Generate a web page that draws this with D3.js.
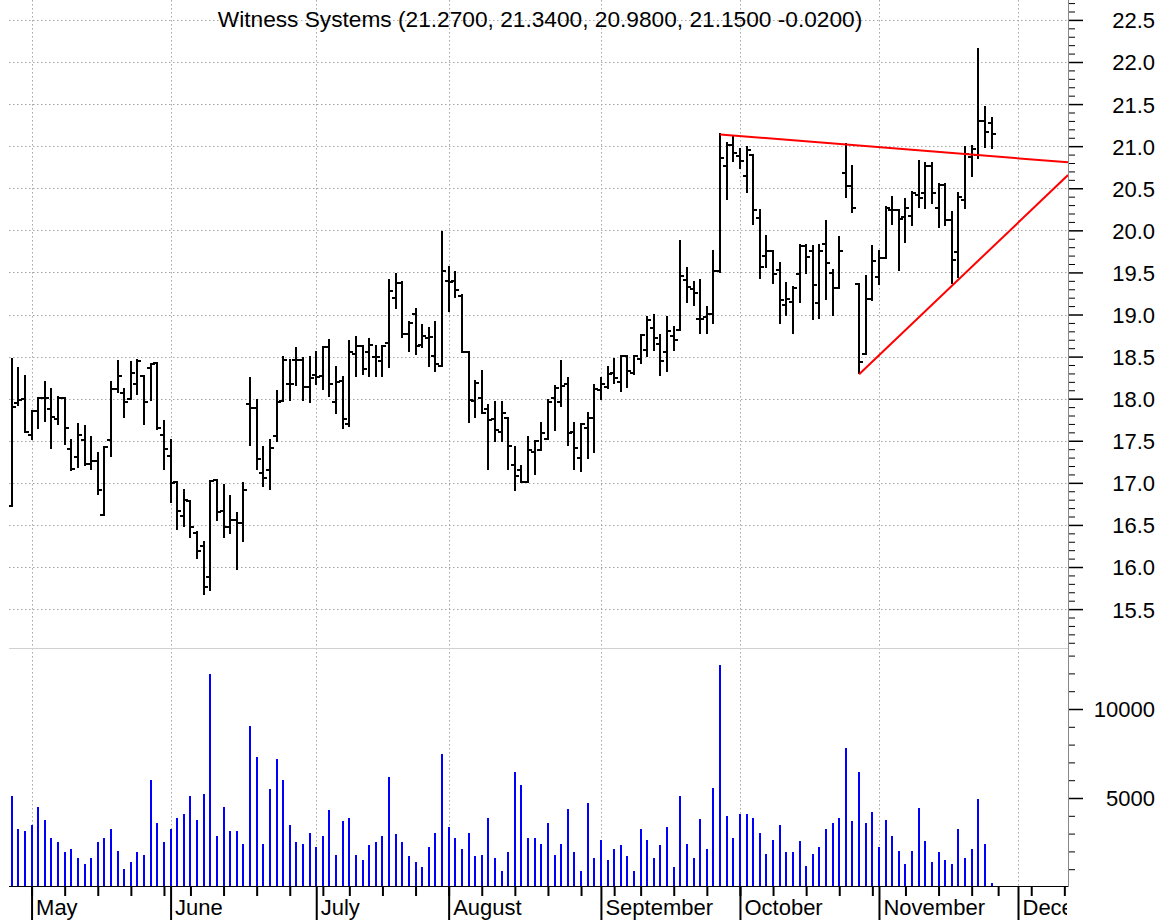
<!DOCTYPE html>
<html><head><meta charset="utf-8">
<script src="https://cdn.jsdelivr.net/npm/d3@7"></script>
<style>body{margin:0;background:#fff} svg{display:block}</style>
</head><body>
<svg id="chart" width="1165" height="920"></svg>
<script>
const title = "Witness Systems (21.2700, 21.3400, 20.9800, 21.1500 -0.0200)";
const firstDay = "2005-04-27";
const holidays = ["2005-05-30","2005-07-04","2005-09-05","2005-11-24"];
const monthNames = ["January","February","March","April","May","June","July","August","September","October","November","December"];

const opens = [16.73,17.95,18.00,17.57,17.85,18.01,17.88,17.76,18.01,17.40,
17.31,17.51,17.22,17.26,16.62,17.51,18.12,18.07,18.00,18.17,
18.27,18.36,18.42,17.57,17.32,17.01,16.61,16.78,16.41,16.25,
15.88,17.03,16.67,16.47,16.56,16.52,17.94,17.89,17.12,17.15,
17.56,17.97,18.18,18.46,18.46,18.14,18.28,18.27,18.61,17.96,
18.21,17.70,18.53,18.62,18.56,18.50,18.45,18.66,19.20,19.37,
18.77,19.01,18.64,18.72,18.51,18.39,19.40,19.40,19.22,18.55,
17.97,18.01,17.88,17.76,17.61,17.77,17.21,17.15,17.01,17.37,
17.39,17.52,18.01,17.96,18.18,17.61,17.30,17.65,17.77,18.10,
18.14,18.31,18.20,18.51,18.31,18.47,18.58,18.84,18.65,18.55,
18.74,18.82,19.41,19.30,18.95,18.97,19.01,19.52,20.76,21.01,
20.88,20.64,20.90,20.15,19.69,19.76,19.53,19.11,19.15,19.48,
19.81,19.76,19.14,19.84,19.49,19.31,20.68,20.53,19.36,18.53,
19.18,19.45,19.67,20.24,20.24,20.16,20.17,20.42,20.44,20.76,
20.26,20.54,20.12,19.74,20.36,20.87,20.89,21.30,21.27];
const highs = [18.47,18.36,18.27,17.85,18.01,18.20,18.11,18.02,18.01,17.51,
17.70,17.67,17.55,17.35,17.42,18.20,18.45,18.11,18.43,18.46,
18.27,18.41,18.42,17.73,17.51,17.01,16.91,16.78,16.42,16.30,
17.02,17.03,16.97,16.84,16.64,17.00,18.25,17.99,17.42,17.51,
18.09,18.49,18.46,18.60,18.48,18.49,18.55,18.61,18.70,18.38,
18.26,18.68,18.73,18.62,18.71,18.62,18.62,19.41,19.48,19.39,
18.91,19.06,18.88,18.84,18.91,19.98,19.56,19.50,19.23,18.55,
18.21,18.33,17.92,17.96,17.96,17.77,17.42,17.20,17.55,17.50,
17.71,17.98,18.15,18.45,18.25,17.71,17.70,17.83,18.16,18.24,
18.38,18.47,18.51,18.51,18.51,18.76,18.97,18.99,18.76,18.97,
18.85,19.87,19.55,19.39,19.41,19.09,19.76,21.14,21.04,21.12,
20.97,20.99,20.90,20.24,19.93,19.76,19.61,19.37,19.33,19.82,
19.83,19.81,19.83,20.11,19.53,19.92,21.03,20.77,19.36,19.46,
19.81,19.76,20.28,20.40,20.24,20.37,20.46,20.82,20.80,20.80,
20.55,20.55,20.22,20.44,20.99,21.00,22.15,21.47,21.34];
const lows = [16.73,17.93,17.61,17.52,17.65,17.73,17.41,17.70,17.46,17.15,
17.19,17.21,17.17,16.87,16.62,17.32,18.08,17.78,18.00,18.06,
17.70,17.98,17.64,17.17,16.77,16.45,16.49,16.36,16.11,15.68,
15.73,16.56,16.36,16.41,15.98,16.31,17.45,17.17,16.96,16.93,
17.50,17.97,17.99,18.16,17.99,17.96,18.18,18.11,18.03,17.83,
17.65,17.67,18.27,18.29,18.27,18.27,18.27,18.38,19.08,18.73,
18.57,18.53,18.61,18.39,18.33,18.39,19.04,19.21,18.55,17.72,
17.78,17.83,17.17,17.50,17.50,17.16,16.91,17.01,17.01,17.10,
17.39,17.52,17.63,17.91,17.45,17.16,17.14,17.30,17.37,18.00,
18.13,18.19,18.09,18.14,18.29,18.42,18.51,18.58,18.28,18.33,
18.58,18.82,19.15,19.11,18.78,18.78,18.90,19.50,20.37,20.82,
20.74,20.46,20.08,19.43,19.57,19.38,18.90,18.99,18.78,19.15,
19.49,18.95,18.96,19.19,18.99,19.31,20.40,20.22,18.30,18.53,
19.17,19.36,19.67,20.08,19.53,19.86,20.06,20.28,20.26,20.32,
20.04,20.06,19.37,19.45,20.26,20.64,20.86,20.99,20.98];
const closes = [17.90,17.98,17.61,17.85,18.01,18.01,17.78,18.01,17.65,17.17,
17.57,17.22,17.26,16.91,17.42,18.12,18.27,17.96,18.30,18.45,
17.96,18.41,17.65,17.40,17.00,16.67,16.80,16.47,16.19,15.76,
17.02,16.65,16.48,16.56,16.52,16.91,17.89,17.28,17.06,17.41,
17.96,18.46,18.17,18.46,18.14,18.24,18.26,18.61,18.18,18.20,
17.76,18.55,18.62,18.35,18.64,18.49,18.62,19.28,19.37,18.77,
18.90,18.62,18.74,18.73,18.41,19.52,19.39,19.29,18.55,17.98,
18.19,17.83,17.75,17.63,17.83,17.44,17.08,17.01,17.39,17.50,
17.59,17.96,18.13,18.15,17.59,17.41,17.70,17.77,18.12,18.18,
18.29,18.25,18.51,18.33,18.51,18.76,18.93,18.72,18.45,18.80,
18.70,19.46,19.33,19.25,18.95,19.01,19.52,20.86,21.01,20.92,
20.82,20.96,20.24,19.57,19.76,19.48,19.17,19.19,19.31,19.81,
19.68,19.35,19.75,19.61,19.31,19.76,20.53,20.27,18.43,19.18,
19.64,19.67,20.27,20.24,20.13,20.26,20.44,20.38,20.76,20.44,
20.54,20.12,19.65,20.40,20.91,20.97,21.30,21.17,21.15];
const volumes = [5140,3280,3170,3480,4510,3780,2740,2550,1940,2120,
1620,1280,1620,2550,2740,3280,2050,1000,1420,1940,
1820,6030,3580,2550,3280,3890,4100,5140,3780,5230,
11960,2850,4510,3170,3170,2440,9050,7300,2440,5530,
7190,6030,3480,2550,2440,3050,2230,2850,4300,1820,
3690,3870,1820,1530,2350,2550,2850,6160,2960,2550,
1730,1420,1100,2230,3050,7490,3370,2740,2140,3050,
1730,1820,3890,1620,910,1940,6460,5750,2760,2760,
2440,3580,1820,2440,4390,1940,910,4710,1620,2640,
1530,2140,2350,1730,890,3280,2640,1620,2350,3370,
1100,5140,2440,1620,3800,2130,5540,12480,3990,2740,
4100,4100,3900,3060,1830,2650,3490,1940,1940,2560,
1190,1830,2240,3280,3580,3900,7820,3690,6470,3580,
4200,2240,3790,2850,2030,1290,2030,4420,2560,1420,
1940,1530,1290,3280,1620,2130,4930,2440,200];

const priceTicks = [15.5,16.0,16.5,17.0,17.5,18.0,18.5,19.0,19.5,20.0,20.5,21.0,21.5,22.0,22.5];
const volumeTicks = [5000,10000];
const upperTrend = [[107,21.14],[126,21.02]];
const lowerTrend = [[128,18.29],[142,19.34]];

// ---- calendar of trading days ----
function tradingDays(start, count){
  const hol = new Set(holidays), out = [];
  const d = new Date(start + "T12:00:00Z");
  while(out.length < count){
    const wd = d.getUTCDay(), s = d.toISOString().slice(0,10);
    if(wd!==0 && wd!==6 && !hol.has(s)) out.push(new Date(d));
    d.setUTCDate(d.getUTCDate()+1);
  }
  return out;
}
const days = tradingDays(firstDay, 162);

// ---- layout ----
const W=1165, H=920;
const L=9, R=1068, priceTop=0, priceBottom=648, volTop=648, volBottom=887;
const svg = d3.select("#chart");
svg.append("rect").attr("width",W).attr("height",H).attr("fill","#fff");

const x = d3.scaleLinear().domain([0,152]).range([11.7,1018]);
const maxIdx = x.invert(R);
const yP = d3.scaleLinear().domain([15.5,22.0]).range([609.1,62]);
const yV = d3.scaleLinear().domain([0,10000]).range([887,709]);

const defs = svg.append("defs");
defs.append("clipPath").attr("id","pclip").append("rect").attr("x",L).attr("y",priceTop).attr("width",R-L).attr("height",priceBottom-priceTop);
defs.append("clipPath").attr("id","xclip").append("rect").attr("x",0).attr("y",volBottom).attr("width",R-1).attr("height",H-volBottom);

// month / week starts
const monthStarts=[], weekStarts=[];
days.forEach((d,i)=>{
  if(i===0 || i>maxIdx) return;
  const p = days[i-1];
  if(d.getUTCMonth()!==p.getUTCMonth()) monthStarts.push(i);
  if(d.getUTCDay() < p.getUTCDay() || (d - p) > 3*864e5) weekStarts.push(i);
});

const gridColor="#a8a8a8";
// horizontal price grid
svg.append("g").selectAll("line").data(priceTicks).join("line")
  .attr("x1",L).attr("x2",R).attr("y1",d=>Math.round(yP(d))+0.5).attr("y2",d=>Math.round(yP(d))+0.5)
  .attr("stroke",gridColor).attr("stroke-width",1).attr("stroke-dasharray","1.5,2.5");
// vertical month grid
svg.append("g").selectAll("line").data(monthStarts).join("line")
  .attr("x1",d=>Math.round(x(d))+0.5).attr("x2",d=>Math.round(x(d))+0.5).attr("y1",0).attr("y2",volBottom)
  .attr("stroke",gridColor).attr("stroke-width",1).attr("stroke-dasharray","1.5,2.5");
// panel separator
svg.append("line").attr("x1",L).attr("x2",R).attr("y1",priceBottom+0.5).attr("y2",priceBottom+0.5)
  .attr("stroke","#d0d0d0").attr("stroke-width",1);

// ---- OHLC bars ----
const bars = svg.append("g").attr("clip-path","url(#pclip)").attr("stroke","#000").attr("stroke-width",2).attr("shape-rendering","crispEdges");
const idx = d3.range(opens.length);
bars.selectAll("line.hl").data(idx).join("line").attr("class","hl")
  .attr("x1",i=>Math.round(x(i))).attr("x2",i=>Math.round(x(i)))
  .attr("y1",i=>yP(highs[i])-1).attr("y2",i=>yP(lows[i])+1);
bars.selectAll("line.o").data(idx).join("line").attr("class","o")
  .attr("x1",i=>Math.round(x(i))-4).attr("x2",i=>Math.round(x(i)))
  .attr("y1",i=>yP(opens[i])).attr("y2",i=>yP(opens[i]));
bars.selectAll("line.c").data(idx).join("line").attr("class","c")
  .attr("x1",i=>Math.round(x(i))).attr("x2",i=>Math.round(x(i))+4)
  .attr("y1",i=>yP(closes[i])).attr("y2",i=>yP(closes[i]));

// ---- trend lines ----
function extend(tr){
  const [[i0,p0],[i1,p1]] = tr, s=(p1-p0)/(i1-i0);
  return [[i0,p0],[maxIdx, p0 + s*(maxIdx-i0)]];
}
const tl = d3.line().x(d=>x(d[0])).y(d=>yP(d[1]));
const trg = svg.append("g").attr("clip-path","url(#pclip)");
[upperTrend, lowerTrend].forEach(t=>{
  trg.append("path").attr("d",tl(extend(t))).attr("fill","none").attr("stroke","#ff0000").attr("stroke-width",2);
});

// ---- volume ----
svg.append("g").attr("shape-rendering","crispEdges").selectAll("line").data(idx).join("line")
  .attr("x1",i=>Math.round(x(i))).attr("x2",i=>Math.round(x(i)))
  .attr("y1",volBottom).attr("y2",i=>yV(volumes[i]))
  .attr("stroke","#0000ff").attr("stroke-width",2);

// ---- right axes ----
const fontFam = "'Liberation Sans', Arial, sans-serif";
const minorP = d3.range(151,228).map(v=>v/10).filter(v=>Math.abs(v*2-Math.round(v*2))>1e-6);
const axP = svg.append("g").attr("transform",`translate(${R},0)`)
  .call(d3.axisRight(yP).tickValues(priceTicks).tickSize(15).tickPadding(30).tickFormat(d3.format(".1f")));
svg.append("g").attr("transform",`translate(${R},0)`)
  .call(d3.axisRight(yP).tickValues(minorP).tickSize(7).tickFormat(""))
  .call(g=>g.select(".domain").remove());
const minorV = d3.range(1000,14000,1000).filter(v=>v%5000!==0);
const axV = svg.append("g").attr("transform",`translate(${R},0)`)
  .call(d3.axisRight(yV).tickValues(volumeTicks).tickSize(15).tickFormat(d3.format("d")));
axV.select(".domain").remove();
svg.append("g").attr("transform",`translate(${R},0)`)
  .call(d3.axisRight(yV).tickValues(minorV).tickSize(7).tickFormat(""))
  .call(g=>g.select(".domain").remove());
svg.append("line").attr("x1",R+0.5).attr("x2",R+0.5).attr("y1",0).attr("y2",volBottom).attr("stroke","#888");
axP.select(".domain").remove();
[axP, axV].forEach(a=>{
  a.selectAll(".tick line").attr("stroke","#000").attr("stroke-width",1.5);
  a.selectAll(".tick text").attr("x",87).attr("text-anchor","end").attr("dy","0.36em")
    .attr("font-family",fontFam).attr("font-size",22).attr("fill","#000");
});
svg.selectAll("g .tick line").attr("stroke","#000");

// ---- bottom axis ----
svg.append("line").attr("x1",L).attr("x2",R).attr("y1",volBottom-0.5).attr("y2",volBottom-0.5).attr("stroke","#000").attr("stroke-width",1);
const axW = svg.append("g").attr("transform",`translate(0,${volBottom})`)
  .call(d3.axisBottom(x).tickValues(weekStarts).tickSize(9).tickFormat(""));
axW.select(".domain").remove();
axW.selectAll(".tick line").attr("stroke","#000").attr("stroke-width",2);
const axMwrap = svg.append("g").attr("clip-path","url(#xclip)");
const axM = axMwrap.append("g").attr("transform",`translate(0,${volBottom})`)
  .call(d3.axisBottom(x).tickValues(monthStarts).tickSize(34).tickFormat(i=>monthNames[days[i].getUTCMonth()]));
axM.select(".domain").remove();
axM.selectAll(".tick line").attr("stroke","#000").attr("stroke-width",2);
axM.selectAll(".tick text").attr("text-anchor","start").attr("x",4).attr("y",12).attr("dy","0.71em")
  .attr("font-family",fontFam).attr("font-size",22).attr("fill","#000");

// ---- title ----
svg.append("text").attr("x",540).attr("y",27).attr("text-anchor","middle")
  .attr("font-family",fontFam).attr("font-size",22.7).attr("fill","#000").text(title);
</script>
</body></html>
